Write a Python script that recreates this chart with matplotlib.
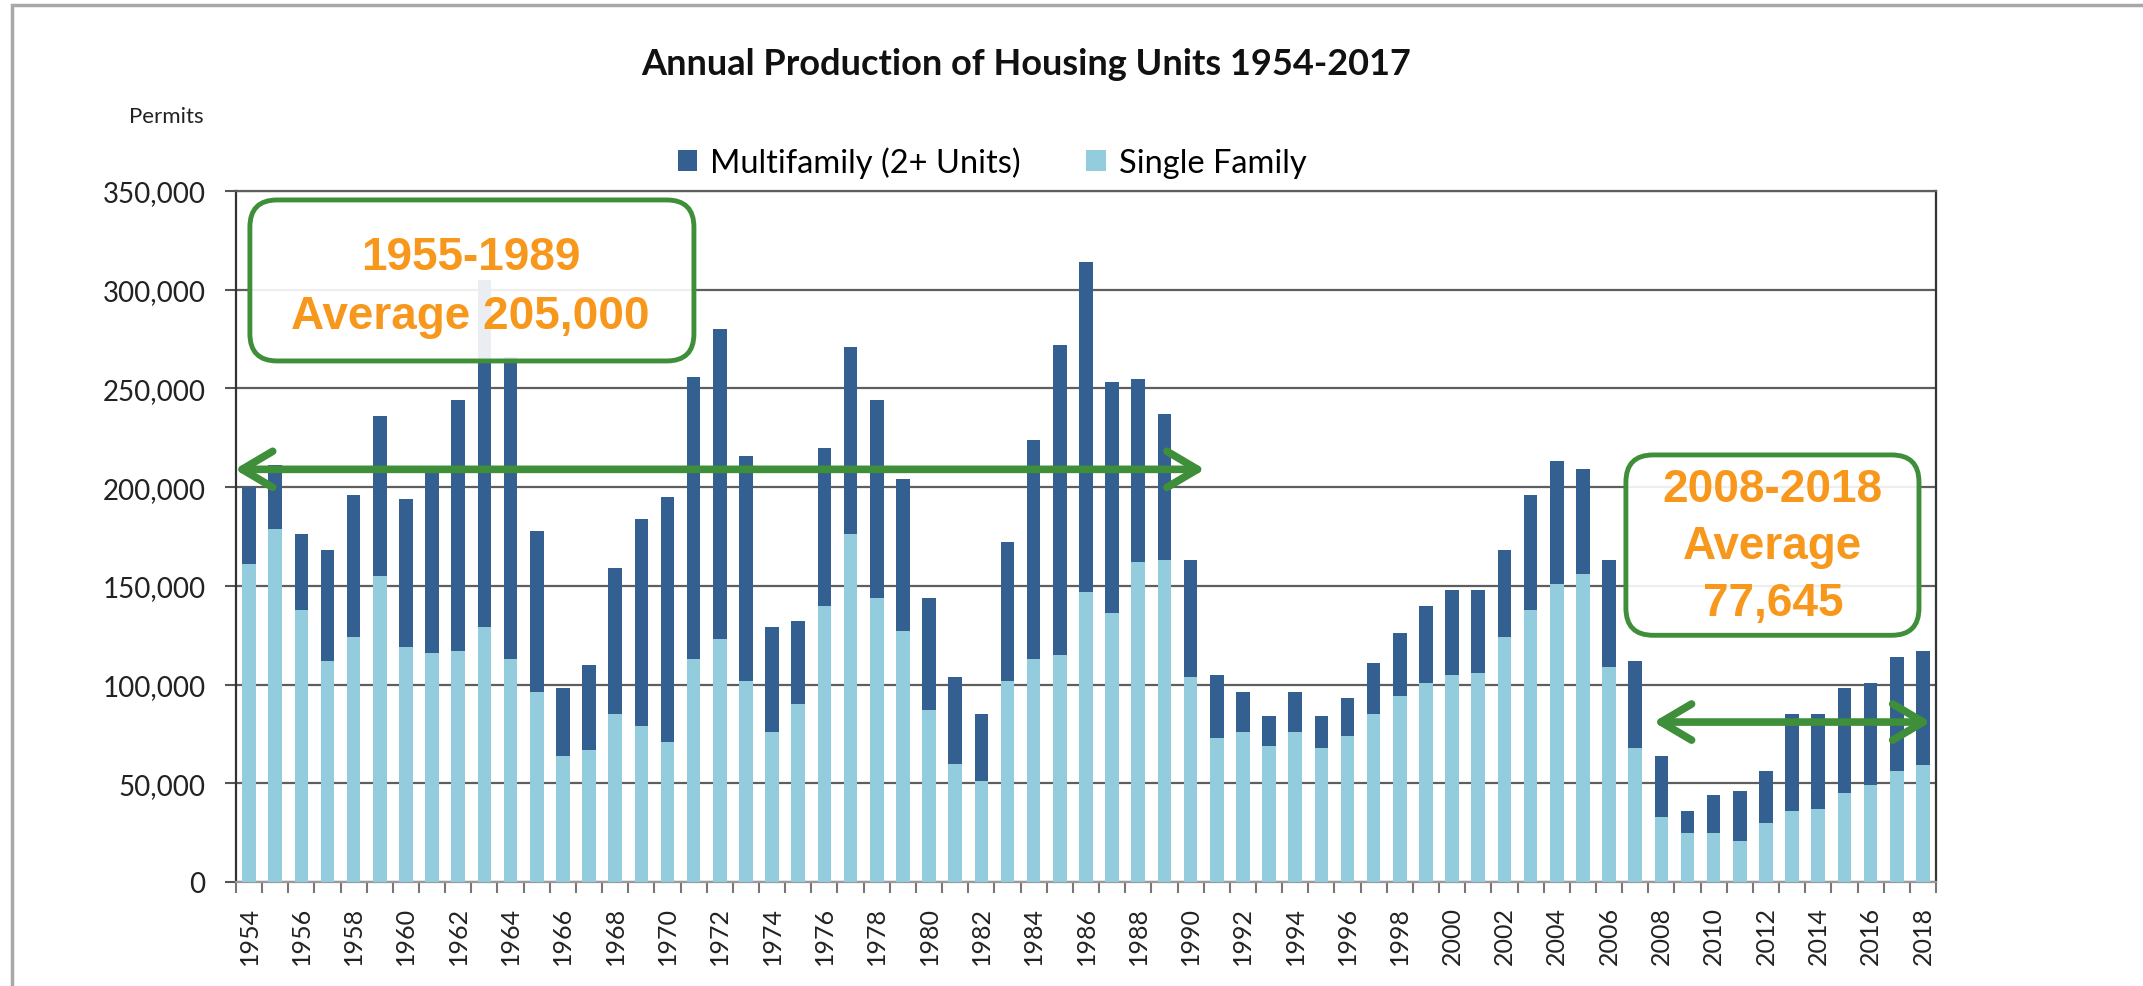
import numpy as np
import matplotlib
matplotlib.use('Agg')
import matplotlib.pyplot as plt
from matplotlib.patches import Patch, FancyBboxPatch, Rectangle
from matplotlib.ticker import FuncFormatter

years = list(range(1954, 2019))
# permits, thousands
single_family = [161, 179, 138, 112, 124, 155, 119, 116, 117, 129,
                 113, 96, 64, 67, 85, 79, 71, 113, 123, 102,
                 76, 90, 140, 176, 144, 127, 87, 60, 51, 102,
                 113, 115, 147, 136, 162, 163, 104, 73, 76, 69,
                 76, 68, 74, 85, 94, 101, 105, 106, 124, 138,
                 151, 156, 109, 68, 33, 25, 25, 21, 30, 36,
                 37, 45, 49, 56, 59]
multifamily = [39, 32, 38, 56, 72, 81, 75, 94, 127, 176,
               153, 82, 34, 43, 74, 105, 124, 143, 157, 114,
               53, 42, 80, 95, 100, 77, 57, 44, 34, 70,
               111, 157, 167, 117, 93, 74, 59, 32, 20, 15,
               20, 16, 19, 26, 32, 39, 43, 42, 44, 58,
               62, 53, 54, 44, 31, 11, 19, 25, 26, 49,
               48, 53, 52, 58, 58]
y_ticks = [0, 50000, 100000, 150000, 200000, 250000, 300000, 350000]

avg_early = 209000      # arrow level, 1955-1989 span
avg_late = 81000        # arrow level, 2008-2018 span

sf = np.array(single_family) * 1000
mf = np.array(multifamily) * 1000
x = np.arange(len(years))

DARK = '#335F91'
LIGHT = '#93CDDD'
GREEN = '#3E8E3A'
ORANGE = '#F7971C'
GRID = '#5E5E5E'
LBL = ['Lato', 'DejaVu Sans']
BIG = ['Liberation Sans Narrow', 'Liberation Sans', 'DejaVu Sans']

fig = plt.figure(figsize=(21.43, 9.87), dpi=100)
ax = fig.add_axes([0.1101, 0.1054, 0.7933, 0.7001])

ax.bar(x, sf, width=0.52, color=LIGHT, zorder=3)
ax.bar(x, mf, width=0.52, bottom=sf, color=DARK, zorder=3)

ax.set_xlim(-0.5, len(years) - 0.5)
ax.set_ylim(0, 350000)
ax.set_yticks(y_ticks)
ax.yaxis.set_major_formatter(FuncFormatter(lambda v, p: f'{int(v):,}'))
ax.yaxis.grid(True, color=GRID, lw=1.6, zorder=1)
ax.set_axisbelow(True)

# ticks between categories, labels every second year
ax.set_xticks(np.arange(-0.5, len(years), 1.0))
ax.set_xticklabels([])
ax.set_xticks(x[::2], minor=True)
ax.set_xticklabels([str(y) for y in years[::2]], minor=True, rotation=90,
                   fontsize=18, family=LBL, color='#222222')
ax.tick_params(axis='x', which='major', length=8, width=1.5, color='#777777')
ax.tick_params(axis='x', which='minor', length=0, pad=17)
ax.tick_params(axis='y', length=8, width=1.5, color='#555555', pad=14,
               labelsize=20, labelcolor='#222222')
for lab in ax.get_yticklabels():
    lab.set_family(LBL)

for s in ['left', 'bottom', 'right']:
    ax.spines[s].set_color('#333333')
    ax.spines[s].set_linewidth(1.6)
ax.spines['top'].set_color(GRID)
ax.spines['top'].set_linewidth(1.6)
ax.spines['bottom'].set_color('#999999')

# average arrows
arrow = dict(arrowstyle='<->,head_length=1.1,head_width=0.65', lw=5.5,
             color=GREEN, mutation_scale=20, shrinkA=0, shrinkB=0,
             capstyle='round', joinstyle='round')
ax.annotate('', xy=(36.55, avg_early), xytext=(-0.55, avg_early),
            arrowprops=arrow, annotation_clip=False, zorder=6)
ax.annotate('', xy=(64.3, avg_late), xytext=(53.7, avg_late),
            arrowprops=arrow, annotation_clip=False, zorder=6)

# rounded label boxes (axes fraction)
asp = 1700 / 691
for (x0, x1, y0, y1) in [(0.0082, 0.2694, 0.754, 0.987),
                         (0.8176, 0.990, 0.357, 0.618)]:
    box = FancyBboxPatch((x0, y0), x1 - x0, y1 - y0,
                         boxstyle='round,pad=0,rounding_size=0.016',
                         mutation_aspect=asp, transform=ax.transAxes,
                         facecolor='white', alpha=0.9, edgecolor='none',
                         zorder=7, clip_on=False)
    ax.add_patch(box)
    edge = FancyBboxPatch((x0, y0), x1 - x0, y1 - y0,
                          boxstyle='round,pad=0,rounding_size=0.016',
                          mutation_aspect=asp, transform=ax.transAxes,
                          facecolor='none', edgecolor=GREEN, lw=3.5,
                          zorder=8, clip_on=False)
    ax.add_patch(edge)

ax.text(0.138, 0.862, '1955-1989\nAverage 205,000', transform=ax.transAxes,
        ha='center', va='center', color=ORANGE, fontsize=33,
        fontweight='bold', family=BIG, linespacing=1.45, zorder=9)
ax.text(0.904, 0.486, '2008-2018\nAverage\n77,645', transform=ax.transAxes,
        ha='center', va='center', color=ORANGE, fontsize=33,
        fontweight='bold', family=BIG, linespacing=1.38, zorder=9)

fig.text(0.479, 0.935, 'Annual Production of Housing Units 1954-2017',
         ha='center', va='center', fontsize=26, fontweight='bold',
         family=LBL, color='#111111')
fig.text(0.0775, 0.881, 'Permits', ha='center', va='center', fontsize=16,
         family=LBL, color='#222222')

handles = [Patch(facecolor=DARK), Patch(facecolor=LIGHT)]
fig.legend(handles, ['Multifamily (2+ Units)', 'Single Family'],
           loc='center', bbox_to_anchor=(0.463, 0.835), ncol=2,
           frameon=False, prop={'family': LBL, 'size': 23.5},
           handlelength=0.6, handleheight=0.6, handletextpad=0.4,
           columnspacing=2.0)

# outer frame of the screenshot
fig.add_artist(Rectangle((12 / 2143, -0.1), 1.2, 0.1 + (987 - 6) / 987,
                         transform=fig.transFigure, fill=False,
                         edgecolor='#A8A8A8', lw=2.5))

fig.savefig('out.png', dpi=100)
